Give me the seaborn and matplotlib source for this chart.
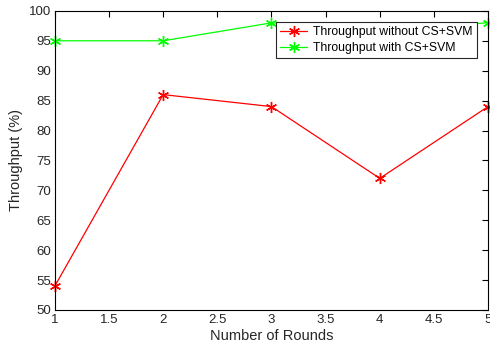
"""
Throughput vs number of rounds, with and without CS+SVM.
"""
import matplotlib
matplotlib.use("Agg")
import matplotlib.pyplot as plt
import pandas as pd
import seaborn as sns

rounds = [1, 2, 3, 4, 5]
without_cs_svm = [54, 86, 84, 72, 84]
with_cs_svm = [95, 95, 98, 97, 98]
series_names = ["Throughput without CS+SVM", "Throughput with CS+SVM"]

df = pd.DataFrame(
    {
        "Round": rounds * 2,
        "Throughput": without_cs_svm + with_cs_svm,
        "Series": [series_names[0]] * len(rounds) + [series_names[1]] * len(rounds),
    }
)

sns.set_style("white")
plt.rcParams["font.family"] = ["Liberation Sans", "DejaVu Sans"]
text_color = "#262626"

fig = plt.figure(figsize=(4.9, 3.51), dpi=100)
ax = fig.add_axes([0.112, 0.117, 0.884, 0.852])

sns.lineplot(
    data=df,
    x="Round",
    y="Throughput",
    hue="Series",
    palette=["#ff0000", "#00ff00"],
    marker=(6, 2, 0),
    markersize=8,
    markeredgewidth=1.0,
    linewidth=0.9,
    ax=ax,
)
for line in ax.lines:
    line.set_markeredgecolor(line.get_color())
    line.set_clip_on(False)

ax.set_xlim(1, 5)
ax.set_ylim(50, 100)
ax.set_xticks([1, 1.5, 2, 2.5, 3, 3.5, 4, 4.5, 5])
ax.set_xticklabels(["1", "1.5", "2", "2.5", "3", "3.5", "4", "4.5", "5"])
ax.set_yticks(range(50, 101, 5))
ax.tick_params(direction="in", length=4, width=0.8, top=True, right=True,
               labelsize=9.5, colors="black", labelcolor=text_color, pad=3)
for s in ax.spines.values():
    s.set_color("black")
    s.set_linewidth(0.8)

ax.set_xlabel("Number of Rounds", fontsize=10.5, color=text_color, labelpad=2)
ax.set_ylabel("Throughput (%)", fontsize=10.5, color=text_color, labelpad=4)

leg = ax.legend(
    loc="upper right",
    bbox_to_anchor=(0.975, 0.963),
    fontsize=8.8,
    frameon=True,
    fancybox=False,
    framealpha=1.0,
    facecolor="white",
    edgecolor="#262626",
    handlelength=2.2,
    handletextpad=0.5,
    borderpad=0.35,
    labelspacing=0.3,
    borderaxespad=0.0,
)
leg.get_frame().set_linewidth(0.8)
leg.set_zorder(5)
for t in leg.get_texts():
    t.set_color("black")
for h in leg.legend_handles:
    h.set_marker((6, 2, 0))
    h.set_markersize(8)
    h.set_markeredgecolor(h.get_color())

fig.savefig("out.png", dpi=100)
